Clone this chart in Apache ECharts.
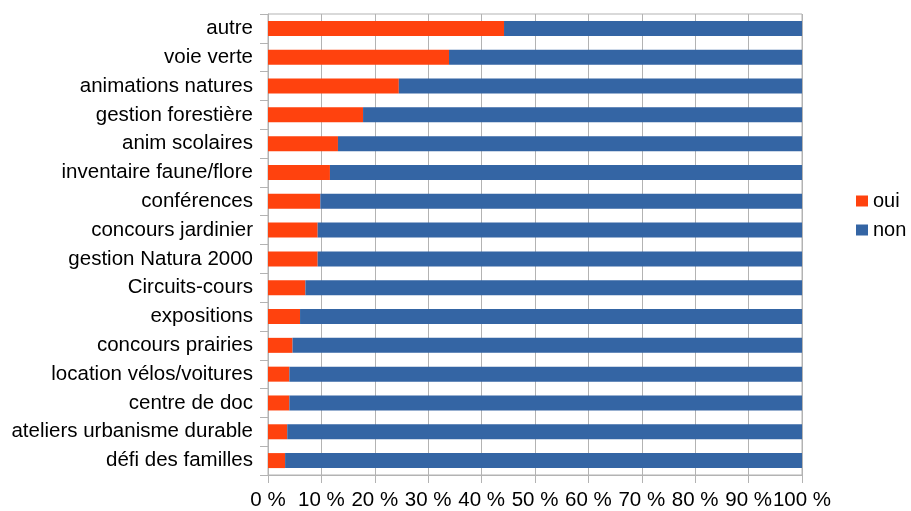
<!DOCTYPE html>
<html>
<head>
<meta charset="utf-8">
<script src="https://cdn.jsdelivr.net/npm/echarts@6/dist/echarts.min.js"></script>
<style>
  html, body { margin: 0; padding: 0; background: #fff; }
  #chart { width: 911px; height: 511px; }
</style>
</head>
<body>
<div id="chart"></div>
<script>
// Catégories (de haut en bas)
const categories = [
  'autre', 'voie verte', 'animations natures', 'gestion forestière',
  'anim scolaires', 'inventaire faune/flore', 'conférences', 'concours jardinier',
  'gestion Natura 2000', 'Circuits-cours', 'expositions', 'concours prairies',
  'location vélos/voitures', 'centre de doc', 'ateliers urbanisme durable', 'défi des familles'
];

// Part "oui" en %
const oui = [44.2, 33.9, 24.5, 17.8, 13.1, 11.6, 9.8, 9.3, 9.3, 7.0, 6.0, 4.6, 4.0, 4.0, 3.6, 3.2];
// Part "non" en %
const non = [55.8, 66.1, 75.5, 82.2, 86.9, 88.4, 90.2, 90.7, 90.7, 93.0, 94.0, 95.4, 96.0, 96.0, 96.4, 96.8];

const font = 'Liberation Sans';

document.addEventListener('DOMContentLoaded', () => {
  echarts.init(document.querySelector('#chart')).setOption({
    animation: false,
    textStyle: { fontFamily: font },
    grid: {
      left: 268, right: 109, top: 14, bottom: 35,
      show: true, borderColor: '#b3b3b3', borderWidth: 1
    },
    legend: {
      orient: 'vertical',
      left: 851,
      top: 186,
      itemWidth: 12,
      itemHeight: 11,
      itemGap: 9,
      icon: 'rect',
      textStyle: { fontFamily: font, fontSize: 20, color: '#000' },
      data: ['oui', 'non']
    },
    xAxis: {
      type: 'value',
      min: 0,
      max: 100,
      interval: 10,
      axisLine: { show: true, lineStyle: { color: '#b3b3b3' } },
      axisTick: { show: true, length: 8, lineStyle: { color: '#b3b3b3' } },
      splitLine: { lineStyle: { color: '#b3b3b3' } },
      axisLabel: { formatter: '{value} %', fontFamily: font, fontSize: 20.5, color: '#000', margin: 15 }
    },
    yAxis: {
      type: 'category',
      inverse: true,
      data: categories,
      axisLine: { show: true, lineStyle: { color: '#b3b3b3' } },
      axisTick: { show: true, length: 8, lineStyle: { color: '#b3b3b3' } },
      axisLabel: { fontFamily: font, fontSize: 20.5, color: '#000', margin: 15 }
    },
    series: [
      {
        name: 'oui', type: 'bar', stack: 'total', barWidth: 15,
        itemStyle: { color: '#ff420e' }, data: oui
      },
      {
        name: 'non', type: 'bar', stack: 'total', barWidth: 15,
        itemStyle: { color: '#3465a4' }, data: non
      }
    ]
  });
});
</script>
</body>
</html>
